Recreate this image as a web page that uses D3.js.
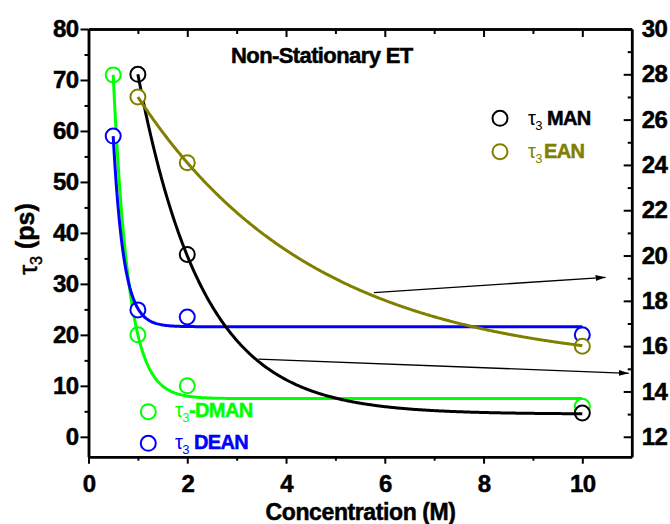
<!DOCTYPE html>
<html>
<head>
<meta charset="utf-8">
<script src="https://cdn.jsdelivr.net/npm/d3@7"></script>
<style>
  html, body { margin: 0; padding: 0; background: #fff; }
  svg { display: block; }
  text { font-family: "Liberation Sans", Arial, sans-serif; font-weight: bold; }
</style>
</head>
<body>
<svg id="chart" width="670" height="524"></svg>
<script>
// Concentration (M) of each measured sample
const concLow = [0.5, 1, 2, 10];   // DMAN, DEAN
const concHigh = [1, 2, 10];       // MAN, EAN

// tau3 (ps), left axis
const tauDMAN = [71, 20, 10, 6];
const tauDEAN = [59, 24.9, 23.5, 20];
// tau3 (ps), right axis
const tauMAN = [28, 20.05, 13.05];
const tauEAN = [27, 24.1, 16];

// Exponential decay fits: y = plateau + amplitude * exp(-(x - x0) / decay)
const fitNames = ["DMAN", "DEAN", "MAN", "EAN"];
const fitStart = [0.5, 0.5, 1, 1];
const fitPlateau = [7.5, 21.6, 13.0, 15.04];
const fitAmplitude = [63.5, 37.4, 15.0, 11.96];
const fitDecay = [0.308, 0.213, 1.31, 3.6];

// Arrows pointing the MAN / EAN curves at the right axis (x in M, y in right-axis ps)
const arrowFrom = [[5.78, 18.36], [3.44, 15.43]];
const arrowTo = [[10.47, 19.04], [10.94, 14.80]];

// Tick values
const xMajor = [0, 2, 4, 6, 8, 10];
const xMinor = [1, 3, 5, 7, 9];
const yLeftMajor = [0, 10, 20, 30, 40, 50, 60, 70, 80];
const yLeftMinor = [5, 15, 25, 35, 45, 55, 65, 75];
const yRightMajor = [12, 14, 16, 18, 20, 22, 24, 26, 28, 30];
const yRightMinor = [13, 15, 17, 19, 21, 23, 25, 27, 29];

const colors = { DMAN: "#00ff00", DEAN: "#0000ff", MAN: "#000000", EAN: "#808000" };

const svg = d3.select("#chart");
const L = 88.5, R = 631.7, T = 29, B = 456.7;

const x = d3.scaleLinear().domain([0, 11]).range([L, R]);
const yL = d3.scaleLinear().domain([-3.9, 80]).range([B, T]);
const yR = d3.scaleLinear().domain([11.12, 30]).range([B, T]);

// heavier strokes on the bold labels
function heavy(sel, color) {
  return sel.attr("stroke", color || "#000").attr("stroke-width", 0.5);
}

function styleAxis(g) {
  g.selectAll(".domain").attr("stroke", "#000").attr("stroke-width", 2.5);
  g.selectAll(".tick line").attr("stroke", "#000").attr("stroke-width", 2);
  g.selectAll(".tick text").attr("fill", "#000").style("font-size", "24px")
    .style("font-family", '"Liberation Sans", Arial, sans-serif').style("font-weight", "bold")
    .style("letter-spacing", "-0.6px").call(heavy);
}

// Bottom axis
svg.append("g").attr("transform", `translate(0,${B})`)
  .call(d3.axisBottom(x).tickValues(xMinor).tickSize(4).tickSizeOuter(0).tickFormat(""))
  .call(styleAxis);
svg.append("g").attr("transform", `translate(0,${B})`)
  .call(d3.axisBottom(x).tickValues(xMajor).tickSize(7).tickSizeOuter(0).tickPadding(11).tickFormat(d3.format("d")))
  .call(styleAxis);

// Top axis (ticks inward, no labels)
svg.append("g").attr("transform", `translate(0,${T})`)
  .call(d3.axisBottom(x).tickValues(xMinor).tickSize(5).tickSizeOuter(0).tickFormat(""))
  .call(styleAxis);
svg.append("g").attr("transform", `translate(0,${T})`)
  .call(d3.axisBottom(x).tickValues(xMajor).tickSize(8).tickSizeOuter(0).tickFormat(""))
  .call(styleAxis);

// Left axis
svg.append("g").attr("transform", `translate(${L},0)`)
  .call(d3.axisLeft(yL).tickValues(yLeftMinor).tickSize(4).tickSizeOuter(0).tickFormat(""))
  .call(styleAxis);
svg.append("g").attr("transform", `translate(${L},0)`)
  .call(d3.axisLeft(yL).tickValues(yLeftMajor).tickSize(8).tickSizeOuter(0).tickPadding(2).tickFormat(d3.format("d")))
  .call(styleAxis);

// Right axis (ticks inward, labels outside)
svg.append("g").attr("transform", `translate(${R},0)`)
  .call(d3.axisRight(yR).tickValues(yRightMinor).tickSize(-4).tickSizeOuter(0).tickFormat(""))
  .call(styleAxis);
svg.append("g").attr("transform", `translate(${R},0)`)
  .call(d3.axisRight(yR).tickValues(yRightMajor).tickSize(-8).tickSizeOuter(0).tickPadding(10).tickFormat(d3.format("d")))
  .call(styleAxis);

// Series: points then fitted decay curve
const series = [
  { name: "DMAN", xs: concLow, ys: tauDMAN, y: yL },
  { name: "DEAN", xs: concLow, ys: tauDEAN, y: yL },
  { name: "MAN", xs: concHigh, ys: tauMAN, y: yR },
  { name: "EAN", xs: concHigh, ys: tauEAN, y: yR }
];

const plot = svg.append("g");
series.forEach(s => {
  const i = fitNames.indexOf(s.name);
  const c = colors[s.name];
  plot.append("g").selectAll("circle")
    .data(s.xs.map((v, k) => [v, s.ys[k]]))
    .join("circle")
    .attr("cx", d => x(d[0]))
    .attr("cy", d => s.y(d[1]))
    .attr("r", 7.5)
    .attr("fill", "#fff")
    .attr("stroke", c)
    .attr("stroke-width", 2);
  const xs = d3.range(fitStart[i], 10.0001, 0.02);
  const pts = xs.map(v => [v, fitPlateau[i] + fitAmplitude[i] * Math.exp(-(v - fitStart[i]) / fitDecay[i])]);
  plot.append("path")
    .datum(pts)
    .attr("fill", "none")
    .attr("stroke", c)
    .attr("stroke-width", 3)
    .attr("d", d3.line().x(d => x(d[0])).y(d => s.y(d[1])));
});

// Arrows
svg.append("defs").append("marker")
  .attr("id", "arrowhead")
  .attr("viewBox", "0 0 10 6")
  .attr("refX", 10).attr("refY", 3)
  .attr("markerWidth", 10).attr("markerHeight", 6)
  .attr("markerUnits", "userSpaceOnUse")
  .attr("orient", "auto")
  .append("path").attr("d", "M0,0 L10,3 L0,6 Z").attr("fill", "#000");

arrowFrom.forEach((a, k) => {
  svg.append("line")
    .attr("x1", x(a[0])).attr("y1", yR(a[1]))
    .attr("x2", x(arrowTo[k][0])).attr("y2", yR(arrowTo[k][1]))
    .attr("stroke", "#000").attr("stroke-width", 1.3)
    .attr("marker-end", "url(#arrowhead)");
});

// Title inside the plot
svg.append("text")
  .attr("x", 231).attr("y", 63)
  .style("font-size", "22px").style("letter-spacing", "-0.6px")
  .call(heavy)
  .text("Non-Stationary ET");

// Axis titles
svg.append("text")
  .attr("x", (L + 582.7) / 2 + 25).attr("y", 520)
  .attr("text-anchor", "middle")
  .style("font-size", "23px").style("letter-spacing", "-0.4px")
  .call(heavy)
  .text("Concentration (M)");

const yt = svg.append("text")
  .attr("transform", "translate(37,239) rotate(-90)")
  .attr("text-anchor", "middle")
  .style("font-size", "25px")
  .call(heavy);
yt.append("tspan").style("font-weight", "normal").text("τ");
yt.append("tspan").attr("dy", "0.3em").style("font-size", "16px").style("font-weight", "normal").text("3");
yt.append("tspan").attr("dy", "-0.3em").text(" (ps)");

// Legends
const legendItems = [
  { name: "MAN", cx: 500, cy: 118.3, tx: 528, ty: 125, sep: " " },
  { name: "EAN", cx: 500, cy: 151.7, tx: 528, ty: 158, sep: "" },
  { name: "DMAN", cx: 148.3, cy: 411.7, tx: 175, ty: 417, sep: "-" },
  { name: "DEAN", cx: 148.3, cy: 443.3, tx: 175, ty: 449, sep: " " }
];
legendItems.forEach(it => {
  const c = colors[it.name];
  svg.append("circle").attr("cx", it.cx).attr("cy", it.cy).attr("r", 7.5)
    .attr("fill", "none").attr("stroke", c).attr("stroke-width", 2);
  const t = svg.append("text").attr("x", it.tx).attr("y", it.ty)
    .attr("fill", c).style("font-size", "20px").style("letter-spacing", "-0.6px");
  t.append("tspan").style("font-weight", "normal").text("τ");
  t.append("tspan").attr("dy", "5").style("font-size", "13px").style("font-weight", "normal").text("3");
  t.append("tspan").attr("dy", "-5").attr("dx", it.sep === "" ? 2 : 0)
    .attr("stroke", c).attr("stroke-width", 0.5)
    .text(it.sep + it.name);
});
</script>
</body>
</html>
